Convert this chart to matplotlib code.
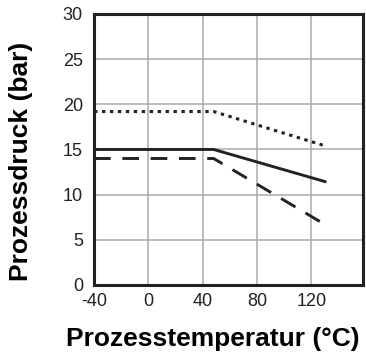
import matplotlib
matplotlib.use("Agg")
import matplotlib.pyplot as plt

plt.rcParams['font.family'] = ['Liberation Sans', 'DejaVu Sans']

# Data
temp_break = [-40, 48, 131]
solid_p = [15.0, 15.0, 11.4]
dashed_p = [14.0, 14.0, 6.6]
dotted_x = [-40, 48, 130]
dotted_p = [19.2, 19.2, 15.4]
xticks = [-40, 0, 40, 80, 120]
yticks = [0, 5, 10, 15, 20, 25, 30]

fig = plt.figure(figsize=(3.66, 3.58), dpi=100)
ax = fig.add_axes([0.257, 0.204, 0.735, 0.757])

ax.plot(dotted_x, dotted_p, color='#222222', lw=2.2, linestyle=(0, (1.1, 1.5)))
ax.plot(temp_break, solid_p, color='#222222', lw=2.1, solid_capstyle='butt')
ax.plot(temp_break, dashed_p, color='#222222', lw=2.1, linestyle=(0, (5.7, 4.0)))

ax.set_xlim(-40, 158)
ax.set_ylim(0, 30)
ax.set_xticks(xticks)
ax.set_yticks(yticks)
ax.set_xticklabels([str(v) for v in xticks])
ax.grid(True, color='#aaaaaa', lw=1.1)
ax.set_axisbelow(True)
ax.tick_params(length=0, labelsize=13, colors='#222222')
ax.tick_params(axis='y', pad=8)
ax.tick_params(axis='x', pad=6)
for s in ax.spines.values():
    s.set_linewidth(2.2)
    s.set_color('#222222')

ax.set_xlabel('Prozesstemperatur (°C)', fontsize=19, fontweight='bold')
ax.set_ylabel('Prozessdruck (bar)', fontsize=19, fontweight='bold')
ax.xaxis.set_label_coords(0.44, -0.155)
ax.yaxis.set_label_coords(-0.228, 0.455)

fig.savefig('out.png', dpi=100)
